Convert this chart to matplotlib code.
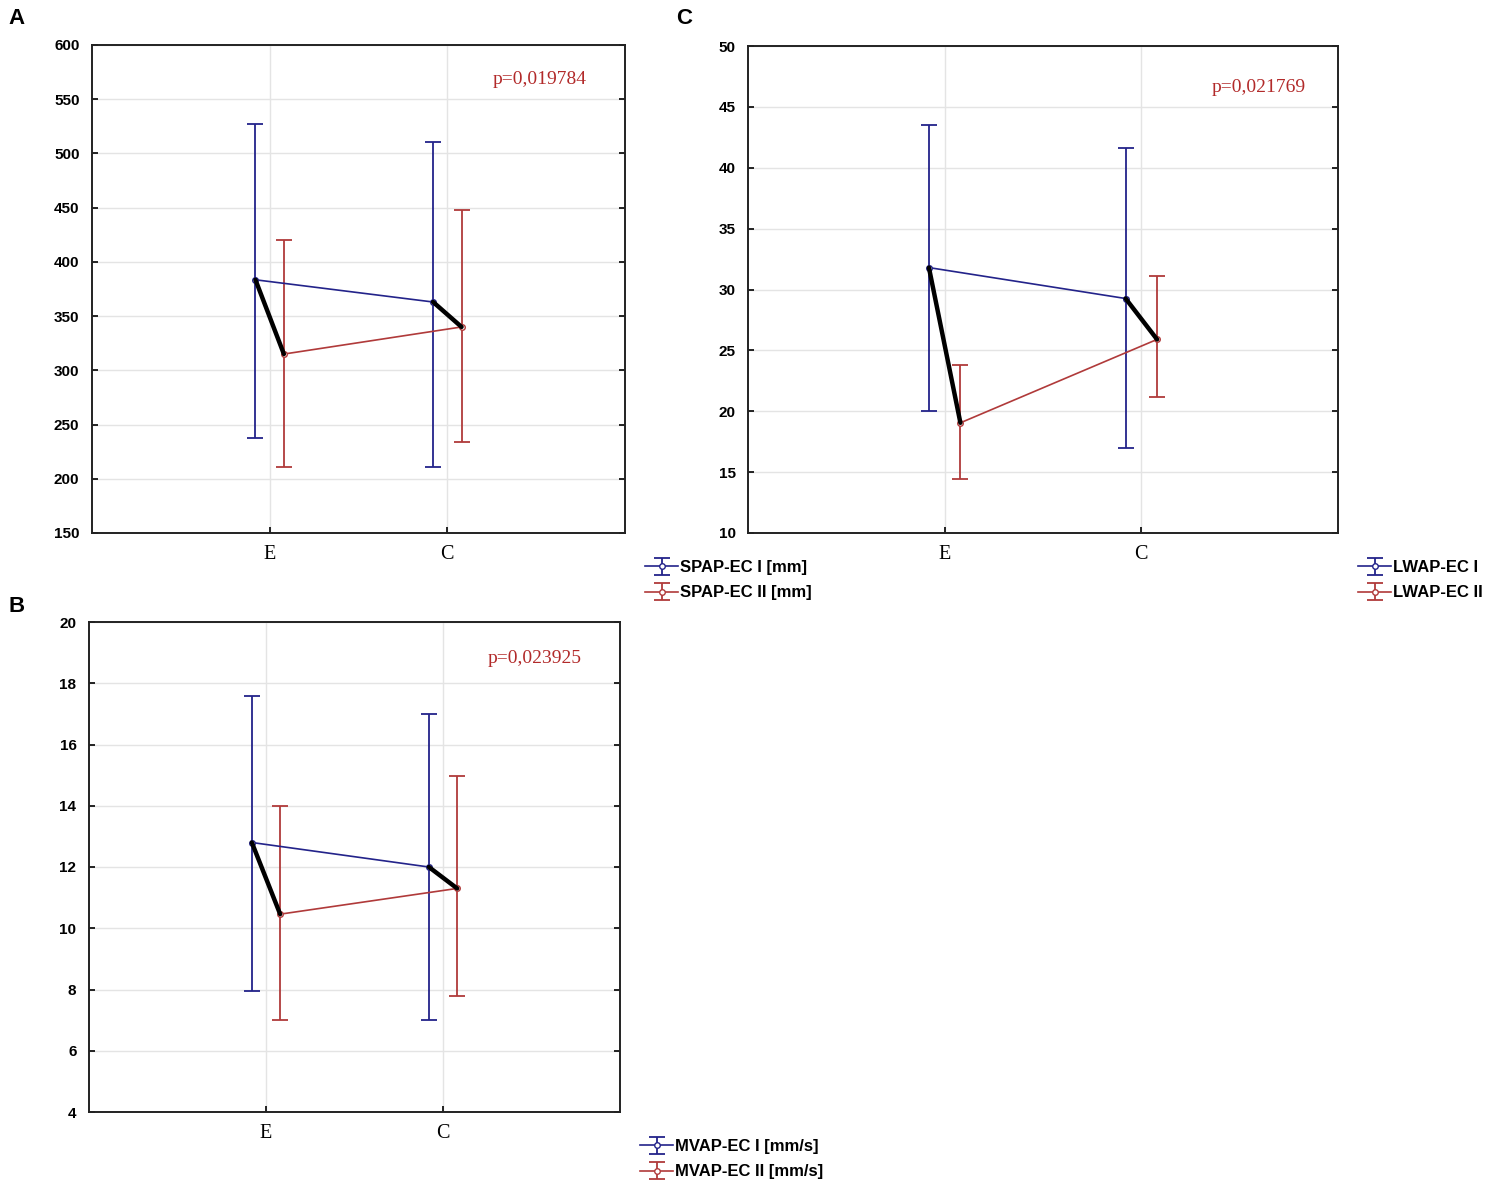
import matplotlib
matplotlib.use("Agg")
import matplotlib.pyplot as plt

categories = ["E", "C"]

# Panel A  (SPAP)
a_ec1_mean = [383.5, 363.0]
a_ec1_low = [238.0, 211.0]
a_ec1_high = [527.0, 511.0]
a_ec2_mean = [315.0, 340.0]
a_ec2_low = [211.0, 234.0]
a_ec2_high = [420.0, 448.0]
a_yticks = [150, 200, 250, 300, 350, 400, 450, 500, 550, 600]
a_labels = ["SPAP-EC I [mm]", "SPAP-EC II [mm]"]
a_p = "p=0,019784"

# Panel B  (MVAP)
b_ec1_mean = [12.8, 12.0]
b_ec1_low = [7.95, 7.02]
b_ec1_high = [17.58, 17.0]
b_ec2_mean = [10.46, 11.3]
b_ec2_low = [7.02, 7.78]
b_ec2_high = [14.0, 14.97]
b_yticks = [4, 6, 8, 10, 12, 14, 16, 18, 20]
b_labels = ["MVAP-EC I [mm/s]", "MVAP-EC II [mm/s]"]
b_p = "p=0,023925"

# Panel C  (LWAP)
c_ec1_mean = [31.8, 29.26]
c_ec1_low = [20.0, 17.0]
c_ec1_high = [43.5, 41.6]
c_ec2_mean = [19.05, 25.9]
c_ec2_low = [14.45, 21.2]
c_ec2_high = [23.8, 31.1]
c_yticks = [10, 15, 20, 25, 30, 35, 40, 45, 50]
c_labels = ["LWAP-EC I", "LWAP-EC II"]
c_p = "p=0,021769"

BLUE = "#23238a"
RED = "#b03a3a"
PCOL = "#b22a2a"
GRID = "#e4e4e4"
OFF = 0.08

fig = plt.figure(figsize=(15, 12), dpi=100)


def panel(rect, m1, lo1, hi1, m2, lo2, hi2, yticks, labels, ptxt, legpos, ptpos):
    ax = fig.add_axes(rect)
    x = list(range(len(categories)))
    x1 = [v - OFF for v in x]
    x2 = [v + OFF for v in x]
    ax.set_xlim(-1, 2)
    ax.set_ylim(yticks[0], yticks[-1])
    ax.set_yticks(yticks)
    ax.set_yticklabels([str(t) for t in yticks], fontsize=11,
                       fontweight="bold", family="Liberation Sans")
    ax.set_xticks(x)
    ax.set_xticklabels(categories, fontsize=14.5, family="Liberation Serif")
    ax.grid(True, color=GRID, linewidth=1.0)
    ax.set_axisbelow(True)
    ax.tick_params(axis="y", direction="in", length=4, width=1.2,
                   right=True, pad=9)
    ax.tick_params(axis="x", direction="in", length=4, width=1.2,
                   top=False, pad=9)
    for s in ax.spines.values():
        s.set_linewidth(1.4)
        s.set_color("#222222")
    e1 = ax.errorbar(x1, m1, yerr=[[m - l for m, l in zip(m1, lo1)],
                                   [h - m for m, h in zip(m1, hi1)]],
                     color=BLUE, ecolor=BLUE, lw=1.2, elinewidth=1.3,
                     capsize=6, capthick=1.3, marker="o", ms=4,
                     mfc="white", mec=BLUE, zorder=3)
    e2 = ax.errorbar(x2, m2, yerr=[[m - l for m, l in zip(m2, lo2)],
                                   [h - m for m, h in zip(m2, hi2)]],
                     color=RED, ecolor=RED, lw=1.2, elinewidth=1.3,
                     capsize=6, capthick=1.3, marker="o", ms=4,
                     mfc="white", mec=RED, zorder=3)
    for i in x:
        ax.plot([x1[i], x2[i]], [m1[i], m2[i]], color="black", lw=3.2,
                solid_capstyle="round", zorder=4)
    ax.text(ptpos[0], ptpos[1], ptxt, transform=ax.transAxes, ha="center",
            va="center", fontsize=14, color=PCOL, family="Liberation Serif")
    fig.legend([e1, e2], labels, loc="upper left", bbox_to_anchor=legpos,
               frameon=False, prop={"family": "Liberation Sans",
                                    "weight": "bold", "size": 12},
               handlelength=2.0, handletextpad=0.1, labelspacing=0.62,
               borderaxespad=0, borderpad=0)
    return ax


axA = panel([92 / 1500, 1 - 533 / 1200, 533 / 1500, 488 / 1200],
            a_ec1_mean, a_ec1_low, a_ec1_high,
            a_ec2_mean, a_ec2_low, a_ec2_high, a_yticks, a_labels, a_p,
            (645 / 1500, 1 - 560 / 1200), (0.84, 0.93))
axB = panel([89 / 1500, 1 - 1112 / 1200, 531 / 1500, 490 / 1200],
            b_ec1_mean, b_ec1_low, b_ec1_high,
            b_ec2_mean, b_ec2_low, b_ec2_high, b_yticks, b_labels, b_p,
            (640 / 1500, 1 - 1139 / 1200), (0.84, 0.925))
axC = panel([748 / 1500, 1 - 533 / 1200, 590 / 1500, 487 / 1200],
            c_ec1_mean, c_ec1_low, c_ec1_high,
            c_ec2_mean, c_ec2_low, c_ec2_high, c_yticks, c_labels, c_p,
            (1358 / 1500, 1 - 560 / 1200), (0.865, 0.915))

for letter, (px, py) in zip(["A", "B", "C"], [(8, 18), (8, 607), (676, 18)]):
    fig.text(px / 1500, 1 - py / 1200, letter, fontsize=16, fontweight="bold",
             family="Liberation Sans", ha="left", va="center")

fig.savefig("out.png", dpi=100)
